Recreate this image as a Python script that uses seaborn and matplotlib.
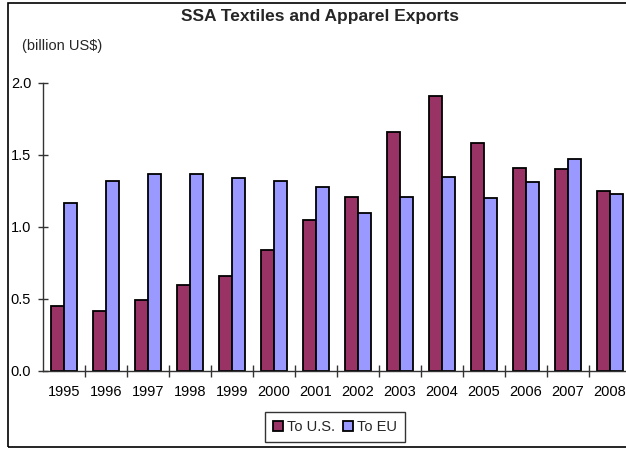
import matplotlib

matplotlib.use('Agg')
import matplotlib.pyplot as plt
import pandas as pd
import seaborn as sns

years = [str(y) for y in range(1995, 2009)]
to_us = [0.45, 0.42, 0.49, 0.60, 0.66, 0.84, 1.05, 1.21, 1.66, 1.91, 1.58, 1.41, 1.40, 1.25]
to_eu = [1.17, 1.32, 1.37, 1.37, 1.34, 1.32, 1.28, 1.10, 1.21, 1.35, 1.20, 1.31, 1.47, 1.23]
series = ['To U.S.', 'To EU']
colors = ['#993366', '#9999FF']


def main():
    df = pd.DataFrame({
        'year': years * 2,
        'value': to_us + to_eu,
        'dest': [series[0]] * len(years) + [series[1]] * len(years),
    })

    sns.set_style('white')
    plt.rcParams['font.family'] = ['Liberation Sans', 'DejaVu Sans']

    fig = plt.figure(figsize=(6.26, 4.49), dpi=100)
    ax = fig.add_axes([43 / 626, 78 / 449, 588 / 626, 288 / 449])

    sns.barplot(data=df, x='year', y='value', hue='dest', palette=colors,
                width=0.62, edgecolor='black', linewidth=1.3, saturation=1,
                ax=ax, legend=True)

    ax.set_ylim(0, 2.0)
    ax.set_xlim(-0.5, len(years) - 0.5)
    ax.set_yticks([0.0, 0.5, 1.0, 1.5, 2.0])
    ax.set_yticklabels(['0.0', '0.5', '1.0', '1.5', '2.0'])
    ax.set_xticks([i + 0.5 for i in range(len(years) - 1)], minor=True)
    ax.tick_params(axis='y', direction='inout', length=7, width=1, pad=5,
                   labelsize=10.5, color='#333333', labelcolor='black', left=True)
    ax.tick_params(axis='x', which='major', length=0, pad=10, labelsize=10.5,
                   labelcolor='black')
    ax.tick_params(axis='x', which='minor', direction='inout', length=8,
                   width=1, color='#333333', bottom=True)
    ax.set_xlabel('')
    ax.set_ylabel('')
    for s in ['top', 'right']:
        ax.spines[s].set_visible(False)
    for s in ['left', 'bottom']:
        ax.spines[s].set_color('#333333')
        ax.spines[s].set_linewidth(1)

    handles, labels = ax.get_legend_handles_labels()
    ax.legend(handles, labels, loc='center', bbox_to_anchor=(335 / 626, 22 / 449),
              bbox_transform=fig.transFigure, ncol=2, frameon=True, fancybox=False,
              edgecolor='black', fontsize=10.5, handlelength=0.7, handleheight=0.7,
              handletextpad=0.3, columnspacing=0.5, borderpad=0.55)
    ax.get_legend().get_frame().set_linewidth(1)

    fig.text(320 / 626, 1 - 17 / 449, 'SSA Textiles and Apparel Exports',
             ha='center', va='center', fontsize=12.5, fontweight='bold')
    fig.text(22 / 626, 1 - 46 / 449, '(billion US$)', ha='left', va='center',
             fontsize=10.5)

    border = plt.Rectangle((8 / 626, 2 / 449), 1.0, 1 - 5 / 449,
                           transform=fig.transFigure, fill=False,
                           edgecolor='black', linewidth=1.2)
    fig.patches.append(border)

    fig.savefig('out.png', dpi=100)
    plt.close()


if __name__ == '__main__':
    main()
